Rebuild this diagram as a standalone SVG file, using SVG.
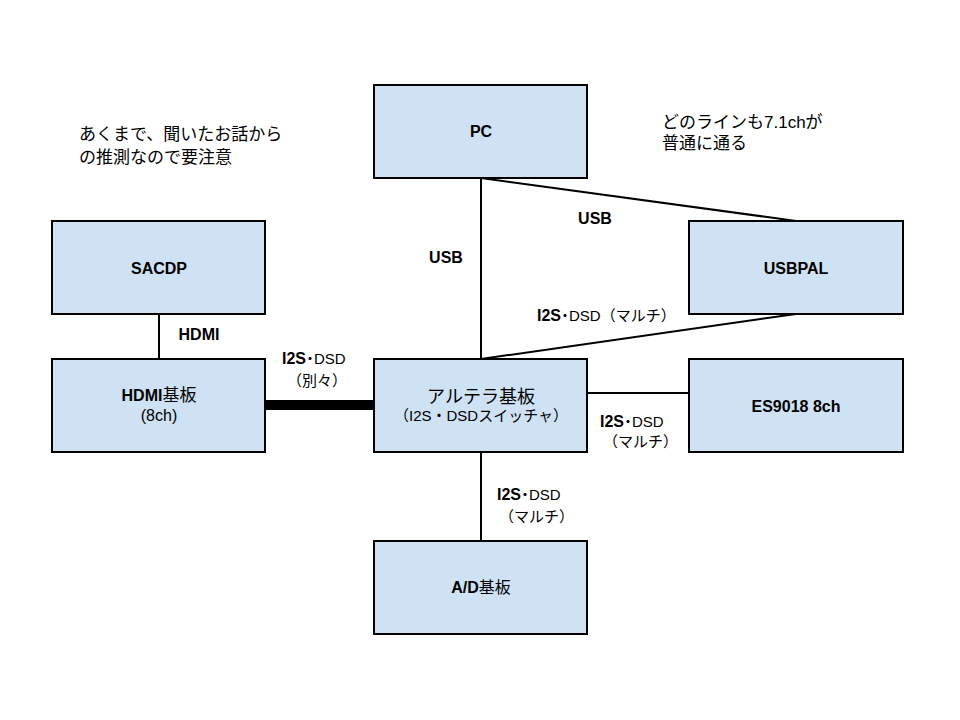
<svg xmlns="http://www.w3.org/2000/svg" width="960" height="720" viewBox="0 0 960 720">
<style>
.box{fill:#cfe2f3;stroke:#000;stroke-width:2}
.ln{stroke:#000;stroke-width:2;fill:none}
text{font-family:"Liberation Sans","Noto Sans CJK JP",sans-serif;fill:#000}
.b{font-size:16px;font-weight:bold}
.n{font-size:15px}
.c{text-anchor:middle}
.note{font-size:17px}
</style>
<rect width="960" height="720" fill="#fff"/>
<g id="connectors">
<line class="ln" x1="481" y1="178" x2="481" y2="359"/>
<line class="ln" x1="481" y1="178" x2="796" y2="221"/>
<line class="ln" x1="796" y1="314" x2="481" y2="359"/>
<line class="ln" x1="159" y1="314" x2="159" y2="359"/>
<line x1="265" y1="405" x2="374" y2="405" stroke="#000" stroke-width="10"/>
<line class="ln" x1="587" y1="393" x2="689" y2="393"/>
<line class="ln" x1="481" y1="452" x2="481" y2="541"/>
<text class="b c" x="595" y="224">USB</text>
<text class="b c" x="446" y="263">USB</text>
<text x="537" y="321"><tspan class="b">I2S･</tspan><tspan class="n">DSD（マルチ）</tspan></text>
<text class="b c" x="199" y="340">HDMI</text>
<text x="282" y="364"><tspan class="b">I2S･</tspan><tspan class="n">DSD</tspan></text>
<text class="n" x="287" y="386">（別々）</text>
<text x="600" y="427"><tspan class="b">I2S･</tspan><tspan class="n">DSD</tspan></text>
<text class="n" x="603" y="447">（マルチ）</text>
<text x="497" y="500"><tspan class="b">I2S･</tspan><tspan class="n">DSD</tspan></text>
<text class="n" x="499" y="522">（マルチ）</text>
</g>
<g id="pc"><rect class="box" x="374" y="85" width="213" height="93"/><text class="b c" x="481" y="137">PC</text></g>
<g id="sacdp"><rect class="box" x="52" y="221" width="213" height="93"/><text class="b c" x="159" y="274">SACDP</text></g>
<g id="usbpal"><rect class="box" x="689" y="221" width="214" height="93"/><text class="b c" x="796" y="274">USBPAL</text></g>
<g id="hdmi"><rect class="box" x="52" y="359" width="213" height="93"/><text class="c" x="159" y="401"><tspan class="b">HDMI</tspan><tspan style="font-size:17px">基板</tspan></text><text class="c" x="159" y="421" style="font-size:16px">(8ch)</text></g>
<g id="altera"><rect class="box" x="374" y="359" width="213" height="93"/><text class="c" x="481" y="403" style="font-size:18px">アルテラ基板</text><text class="c" x="481" y="421" style="font-size:15px">（I2S・DSDスイッチャ）</text></g>
<g id="es9018"><rect class="box" x="689" y="359" width="214" height="93"/><text class="b c" x="796" y="412">ES9018 8ch</text></g>
<g id="ad"><rect class="box" x="374" y="541" width="213" height="93"/><text class="c" x="481" y="593"><tspan class="b">A/D</tspan><tspan style="font-size:16px">基板</tspan></text></g>
<g id="notes">
<text class="note" x="79" y="140">あくまで、聞いたお話から</text>
<text class="note" x="79" y="163">の推測なので要注意</text>
<text class="note" x="662" y="128">どのラインも7.1chが</text>
<text class="note" x="662" y="149">普通に通る</text>
</g>
</svg>
